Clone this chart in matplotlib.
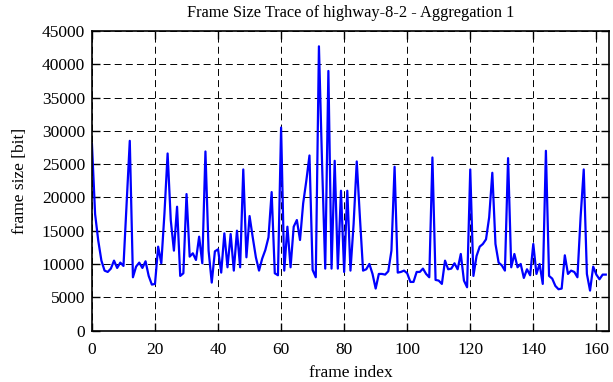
import numpy as np
import matplotlib
matplotlib.use("Agg")
import matplotlib.pyplot as plt

# frame sizes [bit], one per frame index
frame_size = [
    28000, 17500, 13500, 10500, 9000, 8800, 9300, 10500, 9400, 10200,
    9700, 19000, 28500, 8000, 9600, 10200, 9400, 10400, 8200, 6900,
    7000, 12600, 10100, 17600, 26600, 16600, 12000, 18600, 8200, 8600,
    20500, 11100, 11600, 10600, 14100, 10100, 26900, 12000, 7200, 11900,
    12200, 8700, 14600, 9500, 14500, 9000, 15000, 9500, 24200, 11000,
    17200, 14000, 11000, 9000, 10800, 12100, 14000, 20800, 8600, 8300,
    30500, 9000, 15600, 9500, 15600, 16600, 13600, 19100, 22500, 26300,
    9100, 8000, 42700, 25000, 9300, 39000, 9300, 25500, 9300, 21000,
    8800, 21000, 9000, 16000, 25400, 17000, 9000, 9200, 10000, 8500,
    6300, 8500, 8500, 8400, 8900, 12000, 24600, 8700, 8800, 9000,
    8600, 7300, 7300, 8800, 8800, 9300, 8500, 8000, 26000, 7600,
    7500, 7000, 10500, 9200, 9300, 10100, 9200, 11500, 7500, 6500,
    24200, 8200, 11200, 12600, 13000, 13700, 17000, 23700, 13000, 10200,
    9800, 9000, 25900, 9500, 11500, 9500, 10000, 7900, 9200, 8300,
    13000, 8500, 10000, 7000, 27000, 8200, 7800, 6700, 6200, 6300,
    11300, 8500, 9000, 8800, 8000, 17000, 24200, 8500, 6000, 9600,
    8400, 7700, 8400, 8400,
]
frame_index = np.arange(len(frame_size))

x_ticks = [0, 20, 40, 60, 80, 100, 120, 140, 160]
y_ticks = [0, 5000, 10000, 15000, 20000, 25000, 30000, 35000, 40000, 45000]

plt.rcParams['font.family'] = ['Liberation Serif', 'DejaVu Serif']
plt.rcParams['font.size'] = 12
plt.rcParams['lines.scale_dashes'] = False

fig = plt.figure(figsize=(6.13, 3.82), dpi=100)
ax = fig.add_axes([0.150, 0.1348, 0.8434, 0.784])

ax.plot(frame_index, frame_size, color='#0000ff', linewidth=1.6)

ax.set_xlim(0, 164)
ax.set_ylim(0, 45000)
ax.set_xticks(x_ticks)
ax.set_yticks(y_ticks)
ax.set_yticklabels([str(v) for v in y_ticks])

ax.grid(True, color='black', linestyle=(0, (5, 3)), linewidth=0.7)
ax.tick_params(direction='in', length=6, width=1, top=True, right=True,
               labelsize=12.5)
ax.tick_params(axis='x', pad=8)
ax.tick_params(axis='y', pad=5)
for s in ax.spines.values():
    s.set_linewidth(1.2)

ax.set_title('Frame Size Trace of highway-8-2 - Aggregation 1', fontsize=11.8, pad=10)
ax.set_xlabel('frame index', fontsize=12.5, labelpad=5)
ax.set_ylabel('frame size [bit]', fontsize=12.5, labelpad=10)

fig.savefig('out.png', dpi=100)
